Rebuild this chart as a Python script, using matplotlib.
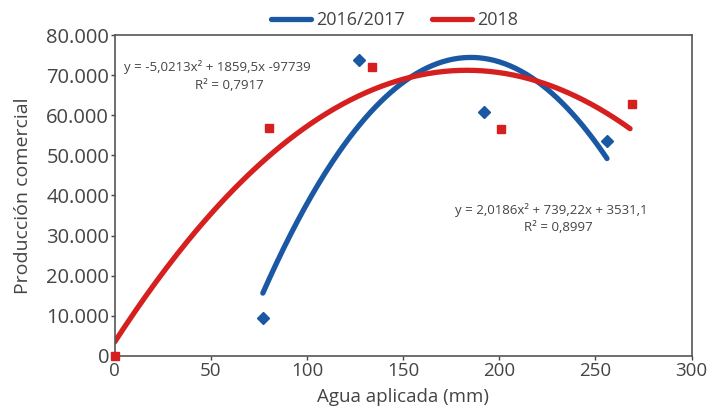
import numpy as np
import matplotlib
matplotlib.use("Agg")
from matplotlib import pyplot as plt
from matplotlib.ticker import FuncFormatter

plt.rcParams['font.family'] = ['Open Sans', 'DejaVu Sans']

x_1617 = [77, 127, 192, 256]
y_1617 = [9500, 73800, 60850, 53600]
x_2018 = [0, 80, 134, 201, 269]
y_2018 = [0, 56860, 72070, 56600, 62840]

# quadratic fits as printed on the chart
coef_1617 = [-5.0213, 1859.5, -97739]
coef_2018 = [-2.0186, 739.22, 3531.1]
range_1617 = (77, 256)
range_2018 = (0, 268)

blue = '#1b58a3'
red = '#d5201f'
grey = '#555555'
txt = '#444444'

fig = plt.figure(figsize=(7.13, 4.12), dpi=100)
ax = fig.add_axes([0.161, 0.136, 0.809, 0.779])

xs = np.linspace(*range_1617, 200)
ax.plot(xs, np.polyval(coef_1617, xs), color=blue, lw=3.8,
        solid_capstyle='round', label='2016/2017')
xs = np.linspace(*range_2018, 200)
ax.plot(xs, np.polyval(coef_2018, xs), color=red, lw=3.8,
        solid_capstyle='round', label='2018')

ax.plot(x_1617, y_1617, 'D', color=blue, ms=6.5, ls='none', clip_on=False)
ax.plot(x_2018, y_2018, 's', color=red, ms=6, ls='none', clip_on=False,
        zorder=5)

ax.set_xlim(0, 300)
ax.set_ylim(0, 80000)
ax.set_xticks(range(0, 301, 50))
ax.set_yticks(range(0, 80001, 10000))
ax.yaxis.set_major_formatter(FuncFormatter(
    lambda v, p: '0' if v == 0 else f'{int(v):,}'.replace(',', '.')))
ax.tick_params(colors=txt, length=3, width=1, pad=1)
ax.tick_params(axis='x', labelsize=13.5)
ax.tick_params(axis='y', labelsize=14.5)
for s in ax.spines.values():
    s.set_color(grey)
    s.set_linewidth(1.2)

ax.set_xlabel('Agua aplicada (mm)', fontsize=13.5, color=txt, labelpad=6)
ax.set_ylabel('Producción comercial', fontsize=14, color=txt, labelpad=10)

# trendline equations
ax.text(5, 72000, 'y = -5,0213x² + 1859,5x -97739', fontsize=9.5,
        color=txt, va='center', ha='left')
ax.text(41.5, 67500, 'R² = 0,7917', fontsize=9.5, color=txt,
        va='center', ha='left')
ax.text(177, 36400, 'y = 2,0186x² + 739,22x + 3531,1', fontsize=9.5,
        color=txt, va='center', ha='left')
ax.text(213, 31900, 'R² = 0,8997', fontsize=9.5, color=txt,
        va='center', ha='left')

leg = ax.legend(loc='lower center', bbox_to_anchor=(0.485, 0.995), ncol=2,
                frameon=False, fontsize=13, handlelength=2.2,
                columnspacing=1.5, handletextpad=0.3, borderaxespad=0)
for t in leg.get_texts():
    t.set_color(txt)

fig.savefig('out.png', dpi=100)
